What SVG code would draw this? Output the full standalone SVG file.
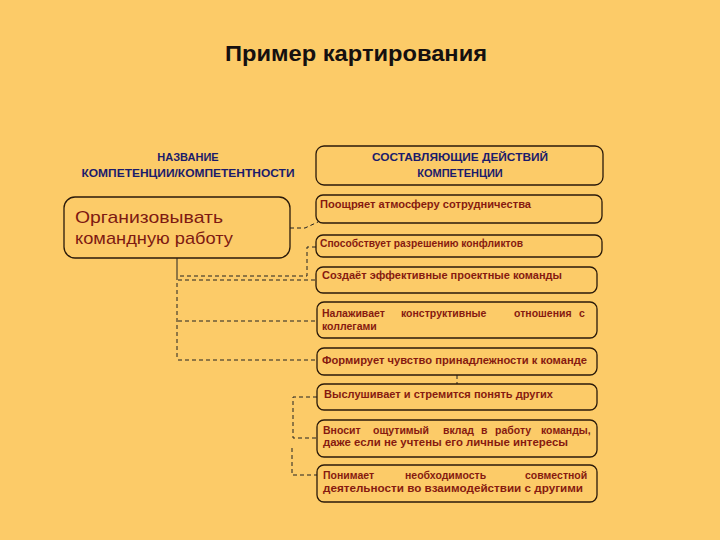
<svg xmlns="http://www.w3.org/2000/svg" width="720" height="540" viewBox="0 0 720 540">
<style>
.bg{fill:#FCCB68}
.box{fill:#FCCB68;stroke:#2a1a0a;stroke-width:1.3}
.title{font-family:"Liberation Sans",Arial,sans-serif;font-size:22px;font-weight:bold;fill:#151010}
.hdr{font-family:"Liberation Sans",Arial,sans-serif;font-size:11px;font-weight:bold;fill:#1B1B6B;text-anchor:middle}
.big{font-family:"Liberation Sans",Arial,sans-serif;font-size:17px;fill:#7E1A12}
.t{font-family:"Liberation Sans",Arial,sans-serif;font-size:10.5px;font-weight:bold;fill:#861A10}
.dash{fill:none;stroke:#222;stroke-width:1;stroke-dasharray:4,3}
.solid{fill:none;stroke:#222;stroke-width:1}
</style>
<rect class="bg" x="0" y="0" width="720" height="540"/>
<text class="title" x="225" y="61" textLength="262" lengthAdjust="spacingAndGlyphs">Пример картирования</text>

<g id="header-left">
<text class="hdr" x="188" y="161">НАЗВАНИЕ</text>
<text class="hdr" x="188" y="177" textLength="213" lengthAdjust="spacingAndGlyphs">КОМПЕТЕНЦИИ/КОМПЕТЕНТНОСТИ</text>
</g>

<g id="header-right">
<rect class="box" x="316" y="146" width="287" height="39" rx="8"/>
<text class="hdr" x="460" y="161" textLength="176" lengthAdjust="spacingAndGlyphs">СОСТАВЛЯЮЩИЕ ДЕЙСТВИЙ</text>
<text class="hdr" x="460" y="177">КОМПЕТЕНЦИИ</text>
</g>

<g id="competence">
<rect class="box" x="64" y="197" width="226" height="61" rx="11"/>
<text class="big" x="75" y="223" textLength="148" lengthAdjust="spacingAndGlyphs">Организовывать</text>
<text class="big" x="75" y="244" textLength="158" lengthAdjust="spacingAndGlyphs">командную работу</text>
</g>

<g id="connectors">
<path class="dash" d="M290,228 H305 L318,222"/>
<path class="dash" d="M316,247 H307 V276 H178"/>
<path class="solid" d="M177,258 V276"/>
<path class="dash" d="M177,276 V360"/>
<path class="dash" d="M178,280 H316"/>
<path class="dash" d="M178,321 H317"/>
<path class="dash" d="M178,360 H317"/>
<path class="dash" d="M457,375 V384"/>
<path class="dash" d="M317,397 H293 V438 H317"/>
<path class="dash" d="M292,448 V475 H317"/>
</g>

<g id="action1">
<rect class="box" x="316" y="195" width="286" height="28" rx="7"/>
<text class="t" x="320" y="208" textLength="211" lengthAdjust="spacingAndGlyphs">Поощряет атмосферу сотрудничества</text>
</g>

<g id="action2">
<rect class="box" x="316" y="235" width="286" height="22" rx="7"/>
<text class="t" x="320" y="247" textLength="203" lengthAdjust="spacingAndGlyphs">Способствует разрешению конфликтов</text>
</g>

<g id="action3">
<rect class="box" x="316" y="267" width="281" height="26" rx="7"/>
<text class="t" x="322" y="279" textLength="240" lengthAdjust="spacingAndGlyphs">Создаёт эффективные проектные команды</text>
</g>

<g id="action4">
<rect class="box" x="317" y="302" width="280" height="36" rx="7"/>
<text class="t" y="317"><tspan x="322">Налаживает</tspan> <tspan x="401">конструктивные</tspan> <tspan x="514">отношения</tspan> <tspan x="579">с</tspan></text>
<text class="t" x="322" y="330">коллегами</text>
</g>

<g id="action5">
<rect class="box" x="317" y="348" width="280" height="27" rx="7"/>
<text class="t" x="322" y="364" textLength="265" lengthAdjust="spacingAndGlyphs">Формирует чувство принадлежности к команде</text>
</g>

<g id="action6">
<rect class="box" x="317" y="384" width="280" height="26" rx="7"/>
<text class="t" x="324" y="398" textLength="229" lengthAdjust="spacingAndGlyphs">Выслушивает и стремится понять других</text>
</g>

<g id="action7">
<rect class="box" x="317" y="420" width="280" height="37" rx="7"/>
<text class="t" y="434"><tspan x="323">Вносит</tspan> <tspan x="373">ощутимый</tspan> <tspan x="443">вклад</tspan> <tspan x="481">в</tspan> <tspan x="495">работу</tspan> <tspan x="541">команды,</tspan></text>
<text class="t" x="323" y="446" textLength="245" lengthAdjust="spacingAndGlyphs">даже если не учтены его личные интересы</text>
</g>

<g id="action8">
<rect class="box" x="317" y="465" width="280" height="37" rx="7"/>
<text class="t" y="479"><tspan x="323">Понимает</tspan> <tspan x="405">необходимость</tspan> <tspan x="525">совместной</tspan></text>
<text class="t" x="323" y="492" textLength="260" lengthAdjust="spacingAndGlyphs">деятельности во взаимодействии с другими</text>
</g>
</svg>
